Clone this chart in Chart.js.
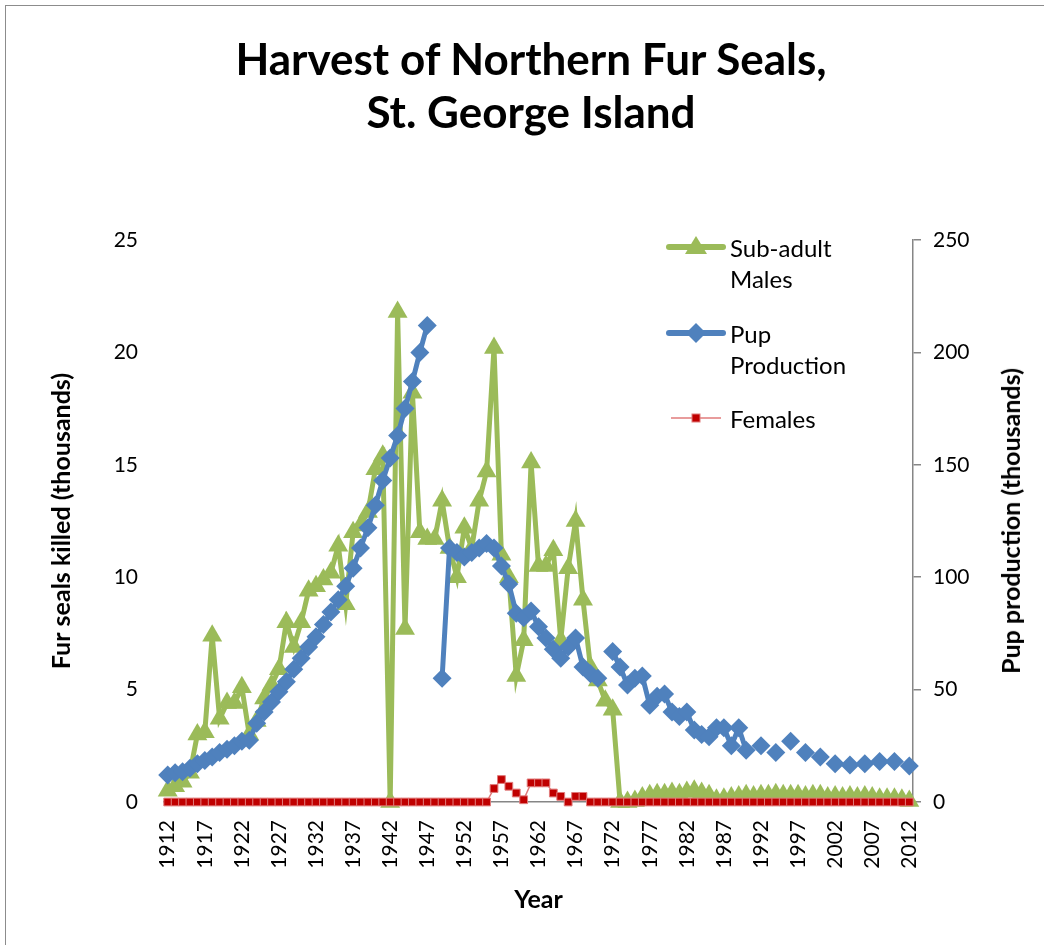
<!DOCTYPE html>
<html>
<head>
<meta charset="utf-8">
<script src="https://cdn.jsdelivr.net/npm/chart.js@4.4.1/dist/chart.umd.min.js"></script>
<style>
  html, body { margin: 0; padding: 0; background: #fff; }
  #wrap { position: relative; width: 1044px; height: 945px; font-family: Lato, "Open Sans", sans-serif; color: #000; overflow: hidden; }
  #frame { position: absolute; left: 5px; top: 5px; width: 1100px; height: 1000px; border-left: 1px solid #8c8c8c; border-top: 1px solid #8c8c8c; }
  #chart { position: absolute; left: 0; top: 0; }
  #title { position: absolute; left: 0; top: 32px; width: 1062px; text-align: center; font-weight: bold; font-size: 44px; line-height: 53px; }
  #rtitle { position: absolute; left: 1010px; top: 521px; transform: translate(-50%, -50%) rotate(-90deg); white-space: nowrap; font-weight: bold; font-size: 25px; }
  .lg { position: absolute; left: 666px; display: flex; align-items: flex-start; font-size: 24px; line-height: 31px; }
  .lg svg { margin-top: 3px; margin-right: 4px; }
</style>
</head>
<body>
<div id="wrap">
  <div id="frame"></div>
  <canvas id="chart" width="1044" height="945"></canvas>
  <div id="title">Harvest of Northern Fur Seals,<br>St. George Island</div>
  <div id="rtitle">Pup production (thousands)</div>
  <div class="lg" style="top:232px">
    <svg width="60" height="24"><line x1="3" y1="12" x2="57" y2="12" stroke="#9bbb59" stroke-width="6" stroke-linecap="round"/><polygon points="30,1 41,19 19,19" fill="#9bbb59"/></svg>
    <div>Sub-adult<br>Males</div>
  </div>
  <div class="lg" style="top:318px">
    <svg width="60" height="24"><line x1="3" y1="12" x2="57" y2="12" stroke="#4f81bd" stroke-width="6" stroke-linecap="round"/><polygon points="30,2 40,12 30,22 20,12" fill="#4f81bd"/></svg>
    <div>Pup<br>Production</div>
  </div>
  <div class="lg" style="top:403px">
    <svg width="60" height="24"><line x1="5" y1="12" x2="55" y2="12" stroke="#e07b7b" stroke-width="1.5"/><rect x="26" y="8" width="8" height="8" fill="#c00000" stroke="#e07b7b" stroke-width="1"/></svg>
    <div>Females</div>
  </div>
</div>
<script>
// St. George Island fur seal harvest, 1912-2012

const years = [
  '1912','1913','1914','1915','1916','1917','1918','1919','1920','1921',
  '1922','1923','1924','1925','1926','1927','1928','1929','1930','1931',
  '1932','1933','1934','1935','1936','1937','1938','1939','1940','1941',
  '1942','1943','1944','1945','1946','1947','1948','1949','1950','1951',
  '1952','1953','1954','1955','1956','1957','1958','1959','1960','1961',
  '1962','1963','1964','1965','1966','1967','1968','1969','1970','1971',
  '1972','1973','1974','1975','1976','1977','1978','1979','1980','1981',
  '1982','1983','1984','1985','1986','1987','1988','1989','1990','1991',
  '1992','1993','1994','1995','1996','1997','1998','1999','2000','2001',
  '2002','2003','2004','2005','2006','2007','2008','2009','2010','2011',
  '2012'
];

// thousands killed, left axis
const subAdultMales = [
  0.5, 0.7, 0.9, 1.3, 3.0, 3.1, 7.4, 3.7, 4.4, 4.4,
  5.1, 3.0, 3.6, 4.6, 5.2, 5.9, 8.0, 6.9, 8.0, 9.4,
  9.6, 9.9, 10.2, 11.4, 8.8, 12.0, 12.3, 12.9, 14.8, 15.4,
  0, 21.8, 7.7, 18.2, 12.0, 11.7, 11.7, 13.4, 11.3, 10.0,
  12.2, 11.3, 13.4, 14.7, 20.2, 11.0, 10.0, 5.6, 7.2, 15.1,
  10.5, 10.5, 11.2, 7.2, 10.4, 12.5, 9.0, 6.0, 5.4, 4.5,
  4.1, 0, 0, 0.05, 0.2, 0.3, 0.35, 0.35, 0.4, 0.35,
  0.45, 0.5, 0.4, 0.3, 0.1, 0.15, 0.2, 0.25, 0.3, 0.25,
  0.3, 0.3, 0.35, 0.3, 0.3, 0.3, 0.25, 0.3, 0.3, 0.2,
  0.25, 0.2, 0.25, 0.2, 0.25, 0.2, 0.15, 0.15, 0.15, 0.1,
  0.05
];

const females = [
  0, 0, 0, 0, 0, 0, 0, 0, 0, 0,
  0, 0, 0, 0, 0, 0, 0, 0, 0, 0,
  0, 0, 0, 0, 0, 0, 0, 0, 0, 0,
  0, 0, 0, 0, 0, 0, 0, 0, 0, 0,
  0, 0, 0, 0, 0.6, 1.0, 0.7, 0.4, 0.1, 0.85,
  0.85, 0.85, 0.4, 0.25, 0, 0.25, 0.25, 0, 0, 0,
  0, 0, 0, 0, 0, 0, 0, 0, 0, 0,
  0, 0, 0, 0, 0, 0, 0, 0, 0, 0,
  0, 0, 0, 0, 0, 0, 0, 0, 0, 0,
  0, 0, 0, 0, 0, 0, 0, 0, 0, 0,
  0
];

// thousands of pups, right axis (null = no count that year)
const pupProduction = [
  12, 13, 13.5, 15, 17, 18.5, 20, 22, 23.5, 25,
  27, 27.5, 35, 40, 44.5, 49, 53.5, 59, 64, 69,
  73.5, 79, 84.5, 90, 96, 104, 113, 122, 132, 143,
  153, 163, 175, 187, 200, 212, null, 55, 113, 111,
  109, 111, 113, 115, 113, 105, 97, 84, 82, 85,
  78, 73, 68, 64, 69, 73, 60, 57, 55, null,
  67, 60, 52, 55, 56, 43, 47, 48, 40, 38,
  40, 32, 30, 29, 33, 33, 25, 33, 23, null,
  25, null, 22, null, 27, null, 22, null, 20, null,
  17, null, 16.5, null, 17, null, 18, null, 18, null,
  16
];

const leftTicks = [0, 5, 10, 15, 20, 25];
const rightTicks = [0, 50, 100, 150, 200, 250];

const tickFont = { family: 'Lato', size: 21 };
const titleFont = { family: 'Lato', size: 25, weight: 'bold' };
const axisGrey = '#868686';

const ctx = document.getElementById('chart').getContext('2d');

new Chart(ctx, {
  type: 'line',
  data: {
    labels: years,
    datasets: [
      {
        label: 'Sub-adult Males',
        data: subAdultMales,
        yAxisID: 'y',
        order: 3,
        clip: false,
        borderColor: '#9bbb59',
        backgroundColor: '#9bbb59',
        borderWidth: 5,
        pointStyle: 'triangle',
        pointRadius: 11.5,
        pointBorderWidth: 0,
        tension: 0
      },
      {
        label: 'Pup Production',
        data: pupProduction,
        yAxisID: 'y1',
        order: 2,
        clip: false,
        borderColor: '#4f81bd',
        backgroundColor: '#4f81bd',
        borderWidth: 5,
        pointStyle: 'rectRot',
        pointRadius: 9.5,
        pointBorderWidth: 0,
        spanGaps: false,
        tension: 0
      },
      {
        label: 'Females',
        data: females,
        yAxisID: 'y',
        order: 1,
        clip: false,
        borderColor: '#e07b7b',
        backgroundColor: '#c00000',
        pointBorderColor: '#e07b7b',
        borderWidth: 1.5,
        pointStyle: 'rect',
        pointRadius: 5.5,
        pointBorderWidth: 1,
        tension: 0
      }
    ]
  },
  options: {
    responsive: false,
    animation: false,
    layout: { padding: { left: 38, right: 10, top: 240, bottom: 0 } },
    plugins: {
      legend: { display: false },
      title: { display: false },
      tooltip: { enabled: false }
    },
    scales: {
      x: {
        offset: true,
        grid: { display: false, drawTicks: false },
        border: { display: true, color: axisGrey, width: 1.5 },
        ticks: {
          autoSkip: false,
          minRotation: 90,
          maxRotation: 90,
          padding: 18,
          color: '#000',
          font: tickFont,
          callback: (v, i) => (i % 5 === 0 ? years[i] : '')
        },
        title: { display: true, text: 'Year', color: '#000', font: titleFont, padding: { top: 0, bottom: 30 } },
        afterFit: s => { s.height = 143; }
      },
      y: {
        position: 'left',
        min: 0,
        max: 25,
        afterBuildTicks: s => { s.ticks = leftTicks.map(v => ({ value: v })); },
        grid: { display: false, drawTicks: false },
        border: { display: false },
        ticks: { padding: 26, color: '#000', font: tickFont },
        title: { display: true, text: 'Fur seals killed (thousands)', color: '#000', font: titleFont, padding: { top: 9, bottom: 0 } },
        afterFit: s => { s.width = 126; }
      },
      y1: {
        position: 'right',
        min: 0,
        max: 250,
        afterBuildTicks: s => { s.ticks = rightTicks.map(v => ({ value: v })); },
        grid: { display: true, drawOnChartArea: false, drawTicks: true, tickLength: 8, color: axisGrey, lineWidth: 1.5 },
        border: { display: true, color: axisGrey, width: 1.5 },
        ticks: { padding: 12, color: '#000', font: tickFont },
        afterFit: s => { s.width = 121; }
      }
    }
  }
});
</script>
</body>
</html>
